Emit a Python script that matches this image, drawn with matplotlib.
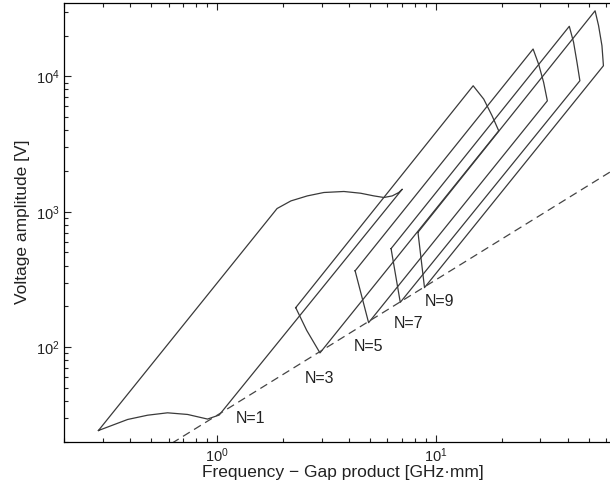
import numpy as np
import matplotlib
matplotlib.use("Agg")
import matplotlib.pyplot as plt
from matplotlib.ticker import NullFormatter

plt.rcParams['font.family'] = ['Liberation Sans', 'DejaVu Sans']
plt.rcParams['mathtext.default'] = 'regular'

# multipactor zones, outlines (fd in GHz*mm, V in volts)
n1_fd = [0.286, 0.389, 0.480, 0.592, 0.731, 0.902, 1.02, 7.01, 6.76, 6.31, 5.78, 5.20, 4.52, 3.79, 3.07, 2.58, 2.17, 1.876, 0.286]
n1_v = [24.2, 29.2, 31.4, 32.7, 31.8, 29.4, 31.5, 1467, 1387, 1309, 1274, 1309, 1370, 1411, 1387, 1309, 1202, 1056, 24.2]

n3_fd = [2.283, 2.563, 2.947, 19.36, 18.05, 16.53, 14.79, 2.283]
n3_v = [195.6, 132.9, 90.6, 3959, 5113, 6792, 8520, 195.6]

n5_fd = [4.267, 4.918, 32.3, 31.06, 29.5, 27.8, 4.267]
n5_v = [366, 151.5, 6598, 9030, 12230, 15920, 366]

n7_fd = [6.23, 6.865, 45.5, 44.13, 42.58, 40.7, 6.23]
n7_v = [534, 214, 9280, 12690, 17840, 23430, 534]

n9_fd = [8.27, 8.86, 58.3, 57.4, 55.4, 53.4, 8.27]
n9_v = [705, 275, 11980, 16840, 23670, 30500, 705]

# dashed boundary line
dash_fd = [0.62, 70]
dash_v = [19.5, 2200]

# zone labels
label_text = ["N=1", "N=3", "N=5", "N=7", "N=9"]
label_fd = [1.215, 2.50, 4.22, 6.42, 8.86]
label_v = [29.5, 58.7, 101.7, 149.7, 218.8]

line_color = "#3a3a3a"

fig = plt.figure(figsize=(6.1, 4.92), dpi=100)
ax = fig.add_axes([0.1057, 0.1022, 0.912, 0.8923])

for fd, v in [(n1_fd, n1_v), (n3_fd, n3_v), (n5_fd, n5_v), (n7_fd, n7_v), (n9_fd, n9_v)]:
	ax.plot(fd, v, color=line_color, lw=0.9)

ax.plot(dash_fd, dash_v, color="#444444", lw=0.9, dashes=(6.4, 4))

for t, x, y in zip(label_text, label_fd, label_v):
	ax.text(x, y, t, fontsize=11.5, ha="left", va="center", color="#222222")

ax.set_xscale('log')
ax.set_yscale('log')
ax.set_xlim(0.2, 70)
ax.set_ylim(20, 35000)

ax.xaxis.set_minor_formatter(NullFormatter())
ax.yaxis.set_minor_formatter(NullFormatter())
ax.tick_params(which='both', direction='in', top=True, right=True, width=0.8, labelsize=10.5, colors="#222222")
ax.tick_params(which='major', length=5)
ax.tick_params(which='minor', length=3)
for s in ax.spines.values():
	s.set_linewidth(0.9)

ax.set_xlabel("Frequency \u2212 Gap product [GHz\u00b7mm]", fontsize=12.5, va='center', color="#222222")
ax.xaxis.set_label_coords(0.5, -0.071)
ax.set_ylabel("Voltage amplitude [V]", fontsize=12.5, va='center', color="#222222")
ax.yaxis.set_label_coords(-0.0755, 0.5)

fig.savefig("out.png", dpi=100)
